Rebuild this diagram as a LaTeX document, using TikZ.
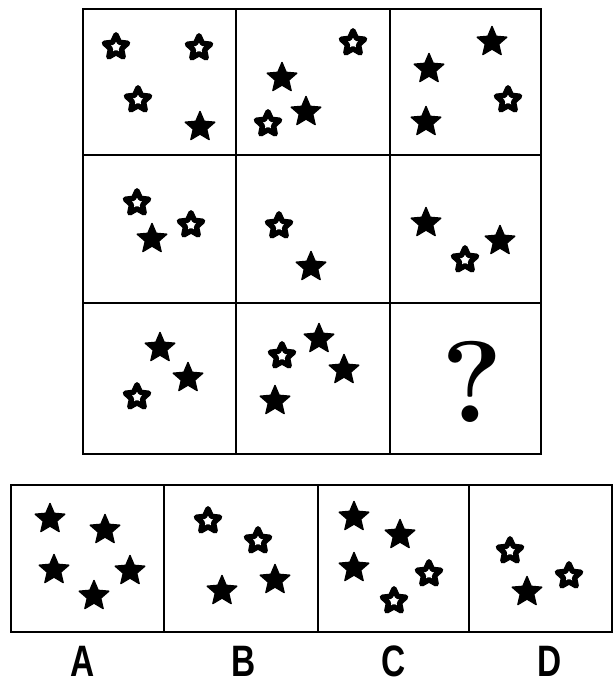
\documentclass[tikz,border=0pt]{standalone}
\usepackage{fontspec}
\usepackage{graphicx}
\newfontfamily\labfont{Liberation Sans}
\usetikzlibrary{shapes.geometric}
\tikzset{
  fstar/.style={star, star points=5, star point ratio=2.2, minimum size=31pt, inner sep=0pt,
    fill=black, draw=black, line width=1.4pt, line join=round},
  hstar/.style={star, star points=5, star point ratio=2.1, minimum size=24.5pt, inner sep=0pt,
    fill=white, draw=black, line width=5.4pt, line join=round},
  frame/.style={draw=black, line width=2.6pt},
  optlabel/.style={inner sep=0pt, font=\labfont\bfseries\fontsize{44}{44}\selectfont},
}
\newcommand{\optlab}[1]{\scalebox{0.76}[1]{#1}}
\begin{document}
\begin{tikzpicture}[x=1pt,y=-1pt]
\useasboundingbox (0,0) rectangle (613,684);
\fill[white] (0,0) rectangle (613,684);
% top grid
\draw[frame] (83,9) rectangle (541,454);
\draw[frame] (236,9) -- (236,454) (390,9) -- (390,454);
\draw[frame] (83,155) -- (541,155) (83,303) -- (541,303);
% row 1
\node[hstar] (r1a) at (116,47) {};
\node[hstar] (r1b) at (199,48) {};
\node[hstar] (r1c) at (138,100) {};
\node[fstar] (r1d) at (200,127) {};
\node[hstar] (r1e) at (353,43) {};
\node[fstar] (r1f) at (282,78) {};
\node[fstar] (r1g) at (306,112) {};
\node[hstar] (r1h) at (268,124) {};
\node[fstar] (r1i) at (492,42) {};
\node[fstar] (r1j) at (429,69) {};
\node[hstar] (r1k) at (508,100) {};
\node[fstar] (r1l) at (426,122) {};
% row 2
\node[hstar] (r2a) at (137,203) {};
\node[fstar] (r2b) at (152,239) {};
\node[hstar] (r2c) at (191,225) {};
\node[hstar] (r2d) at (279,226) {};
\node[fstar] (r2e) at (311,267) {};
\node[fstar] (r2f) at (426,223) {};
\node[hstar] (r2g) at (465,260) {};
\node[fstar] (r2h) at (500,241) {};
% row 3
\node[fstar] (r3a) at (160,348) {};
\node[fstar] (r3b) at (188,378) {};
\node[hstar] (r3c) at (137,397) {};
\node[hstar] (r3d) at (282,356) {};
\node[fstar] (r3e) at (319,339) {};
\node[fstar] (r3f) at (344,370) {};
\node[fstar] (r3g) at (275,401) {};
\node[inner sep=0pt, font=\bfseries\fontsize{116}{116}\selectfont] (qm) at (472,382) {?};
% options
\draw[frame] (11,485) rectangle (612,632);
\draw[frame] (164,485) -- (164,632) (318,485) -- (318,632) (469,485) -- (469,632);
\node[fstar] (oa1) at (50,519) {};
\node[fstar] (oa2) at (105,530) {};
\node[fstar] (oa3) at (54,570) {};
\node[fstar] (oa4) at (130,571) {};
\node[fstar] (oa5) at (94,596) {};
\node[hstar] (ob1) at (208,521) {};
\node[hstar] (ob2) at (258,541) {};
\node[fstar] (ob3) at (222,591) {};
\node[fstar] (ob4) at (275,580) {};
\node[fstar] (oc1) at (354,517) {};
\node[fstar] (oc2) at (400,535) {};
\node[fstar] (oc3) at (354,568) {};
\node[hstar] (oc4) at (429,574) {};
\node[hstar] (oc5) at (394,601) {};
\node[hstar] (od1) at (510,551) {};
\node[fstar] (od2) at (527,592) {};
\node[hstar] (od3) at (569,576) {};
% labels
\node[optlabel] (la) at (83,661) {\optlab{A}};
\node[optlabel] (lb) at (244,661) {\optlab{B}};
\node[optlabel] (lc) at (394,661) {\optlab{C}};
\node[optlabel] (ld) at (550,661) {\optlab{D}};
\end{tikzpicture}
\end{document}
